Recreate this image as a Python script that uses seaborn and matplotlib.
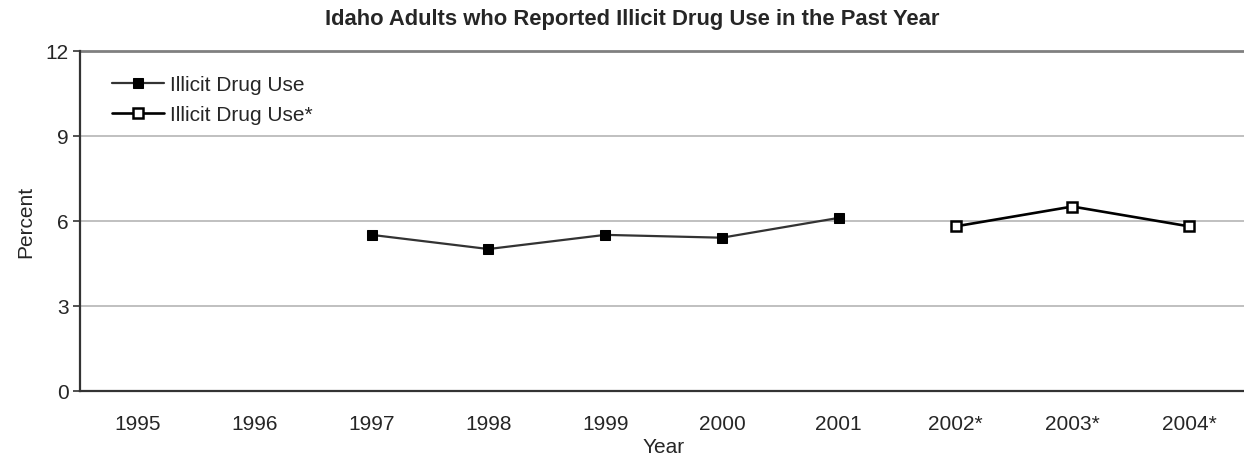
import numpy as np
import pandas as pd
import matplotlib
matplotlib.use("Agg")
import matplotlib.pyplot as plt
import seaborn as sns

years = ["1995", "1996", "1997", "1998", "1999", "2000", "2001", "2002*", "2003*", "2004*"]
use_old = [np.nan, np.nan, 5.5, 5.0, 5.5, 5.4, 6.1, np.nan, np.nan, np.nan]
use_new = [np.nan, np.nan, np.nan, np.nan, np.nan, np.nan, np.nan, 5.8, 6.5, 5.8]
series_names = ["Illicit Drug Use", "Illicit Drug Use*"]
y_ticks = [0, 3, 6, 9, 12]

sns.set_style("white")
plt.rcParams["font.family"] = ["Liberation Sans", "DejaVu Sans"]

W, H = 1244, 456
pos = np.arange(len(years))
df = pd.DataFrame({"pos": pos, "old": use_old, "new": use_new})

fig = plt.figure(figsize=(W / 100, H / 100), dpi=100)
# plot area runs slightly past the right edge of the canvas
ax = fig.add_axes([79.6 / W, (H - 391.7) / H, 1168 / W, 340 / H])

for y in y_ticks[1:-1]:
    ax.axhline(y, color="#c0c0c0", lw=1.4, zorder=0)
ax.axhline(y_ticks[-1], color="#808080", lw=2.0, zorder=0, clip_on=False)

d1 = df.dropna(subset=["old"])
sns.lineplot(data=d1, x="pos", y="old", ax=ax, color="#333333", lw=1.6,
             marker="s", markersize=7.5, markerfacecolor="black",
             markeredgecolor="black", label=series_names[0])
d2 = df.dropna(subset=["new"])
sns.lineplot(data=d2, x="pos", y="new", ax=ax, color="black", lw=1.9,
             marker="s", markersize=7.5, markerfacecolor="white",
             markeredgecolor="black", markeredgewidth=1.8, label=series_names[1])

ax.set_xlim(-0.5, len(years) - 0.5)
ax.set_ylim(0, 12)
ax.set_xticks(pos)
ax.set_xticklabels(years, fontsize=15)
ax.set_yticks(y_ticks)
ax.set_yticklabels([str(t) for t in y_ticks], fontsize=15)
ax.tick_params(axis="x", length=0, pad=17)
ax.tick_params(axis="y", length=5, width=1.2, color="#333333", left=True, pad=3)

for s in ["top", "right"]:
    ax.spines[s].set_visible(False)
for s in ["left", "bottom"]:
    ax.spines[s].set_color("#333333")
    ax.spines[s].set_linewidth(1.6)

ax.set_xlabel("Year", fontsize=15, labelpad=3)
ax.set_ylabel("Percent", fontsize=15, labelpad=7)
fig.text(632.5 / W, 1 - 20 / H,
         "Idaho Adults who Reported Illicit Drug Use in the Past Year",
         fontsize=15.8, fontweight="bold", ha="center", va="center")

ax.legend(loc="upper left", bbox_to_anchor=(112 / W, 1 - 76 / H),
          bbox_transform=fig.transFigure, frameon=False, fontsize=15,
          handlelength=2.5, handletextpad=0.3, labelspacing=0.55,
          borderpad=0, borderaxespad=0)

fig.savefig("out.png", dpi=100)
